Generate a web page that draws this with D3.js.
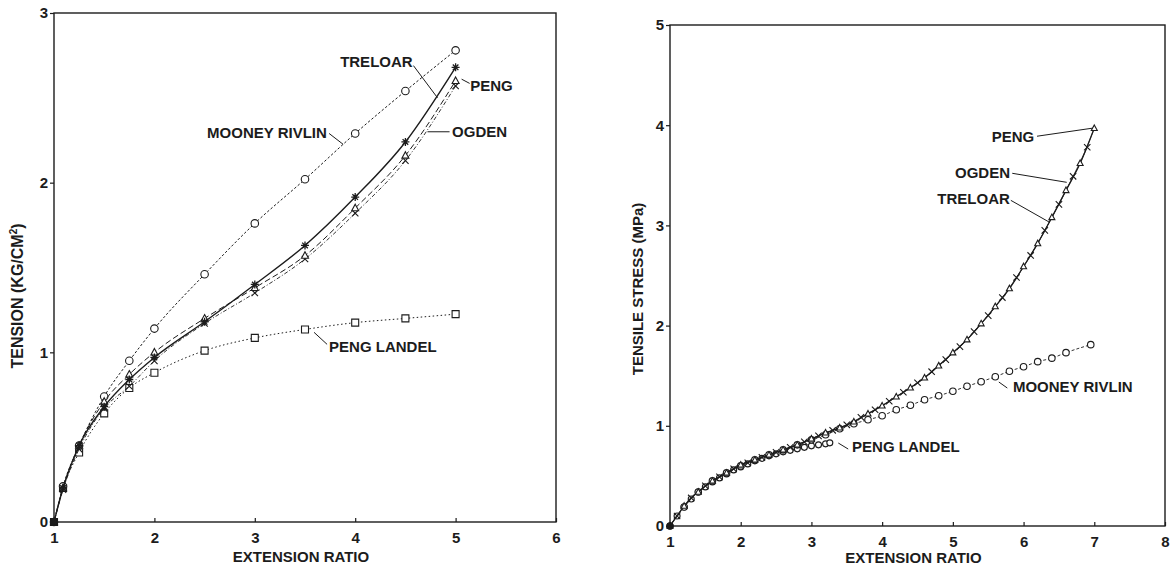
<!DOCTYPE html>
<html><head><meta charset="utf-8">
<script src="https://cdn.jsdelivr.net/npm/d3@7"></script>
<style>
html,body{margin:0;padding:0;background:#fff;}
svg{display:block;}
text{font-family:"Liberation Sans",Arial,Helvetica,sans-serif;font-weight:bold;fill:#1c1c1c;}
</style></head><body>
<svg id="chart" width="1171" height="568"></svg>
<script>
// ---- Panel A: tension (kg/cm²) against extension ratio ----
const ratioA = [1, 1.09, 1.25, 1.5, 1.75, 2, 2.5, 3, 3.5, 4, 4.5, 5];
const mooneyA = [0, 0.21, 0.45, 0.74, 0.95, 1.14, 1.46, 1.76, 2.02, 2.29, 2.54, 2.78];
const treloarA = [0, 0.20, 0.45, 0.68, 0.84, 0.97, 1.18, 1.40, 1.63, 1.915, 2.24, 2.68];
const pengA = [0, 0.20, 0.45, 0.71, 0.87, 1.00, 1.20, 1.38, 1.57, 1.85, 2.16, 2.60];
const ogdenA = [0, 0.19, 0.43, 0.67, 0.80, 0.95, 1.17, 1.35, 1.55, 1.82, 2.13, 2.57];
const pengLandelA = [0, 0.20, 0.41, 0.64, 0.79, 0.88, 1.01, 1.085, 1.135, 1.175, 1.20, 1.225];
const xTicksA = [1, 2, 3, 4, 5, 6];
const yTicksA = [0, 1, 2, 3];

// ---- Panel B: tensile stress (MPa) against extension ratio ----
const ratioTreloarB = [1, 1.1, 1.2, 1.3, 1.4, 1.5, 1.6, 1.7, 1.8, 1.9, 2.0, 2.2, 2.4, 2.6, 2.8, 3.0, 3.2, 3.4, 3.6, 3.8, 4.0, 4.2, 4.4, 4.6, 4.8, 5.0, 5.2, 5.4, 5.6, 5.8, 6.0, 6.2, 6.4, 6.6, 6.8, 7.0];
const treloarB = [0, 0.10, 0.20, 0.28, 0.34, 0.40, 0.45, 0.49, 0.53, 0.57, 0.61, 0.66, 0.71, 0.76, 0.81, 0.87, 0.93, 0.98, 1.04, 1.12, 1.20, 1.29, 1.38, 1.48, 1.60, 1.73, 1.86, 2.02, 2.19, 2.37, 2.59, 2.82, 3.08, 3.35, 3.62, 3.97];
const ratioOgdenB = [1.1, 1.3, 1.5, 1.7, 1.9, 2.1, 2.3, 2.5, 2.7, 2.9, 3.1, 3.3, 3.5, 3.7, 3.9, 4.1, 4.3, 4.5, 4.7, 4.9, 5.1, 5.3, 5.5, 5.7, 5.9, 6.1, 6.3, 6.5, 6.7, 6.9];
const ogdenB = [0.10, 0.28, 0.40, 0.49, 0.57, 0.63, 0.685, 0.735, 0.785, 0.84, 0.90, 0.955, 1.01, 1.085, 1.16, 1.245, 1.335, 1.43, 1.54, 1.66, 1.79, 1.94, 2.10, 2.28, 2.48, 2.70, 2.95, 3.21, 3.49, 3.78];
const ratioPengB = [1.0, 1.2, 1.4, 1.6, 1.8, 2.0, 2.2, 2.4, 2.6, 2.8, 3.0, 3.2, 3.4, 3.6, 3.8, 4.0, 4.2, 4.4, 4.6, 4.8, 5.0, 5.2, 5.4, 5.6, 5.8, 6.0, 6.2, 6.4, 6.6, 6.8, 7.0];
const pengB = [0, 0.20, 0.34, 0.45, 0.53, 0.61, 0.66, 0.71, 0.76, 0.81, 0.87, 0.93, 0.98, 1.04, 1.12, 1.20, 1.29, 1.38, 1.48, 1.60, 1.73, 1.86, 2.02, 2.19, 2.37, 2.59, 2.82, 3.08, 3.35, 3.62, 3.97];
const ratioMooneyB = [1.0, 1.2, 1.4, 1.6, 1.8, 2.0, 2.2, 2.4, 2.6, 2.8, 3.0, 3.2, 3.4, 3.6, 3.8, 4.0, 4.2, 4.4, 4.6, 4.8, 5.0, 5.2, 5.4, 5.6, 5.8, 6.0, 6.2, 6.4, 6.6, 6.95];
const mooneyB = [0, 0.19, 0.34, 0.45, 0.53, 0.60, 0.66, 0.71, 0.76, 0.81, 0.86, 0.91, 0.97, 1.02, 1.06, 1.10, 1.16, 1.205, 1.26, 1.30, 1.345, 1.395, 1.44, 1.49, 1.545, 1.59, 1.64, 1.675, 1.73, 1.81];
const ratioPengLandelB = [1.0, 1.1, 1.2, 1.3, 1.4, 1.5, 1.6, 1.7, 1.8, 1.9, 2.0, 2.1, 2.2, 2.3, 2.4, 2.5, 2.6, 2.7, 2.8, 2.9, 3.0, 3.1, 3.2, 3.26];
const pengLandelB = [0, 0.10, 0.19, 0.27, 0.34, 0.39, 0.44, 0.48, 0.52, 0.56, 0.59, 0.62, 0.65, 0.675, 0.70, 0.72, 0.74, 0.755, 0.77, 0.785, 0.80, 0.81, 0.82, 0.83];
const xTicksB = [1, 2, 3, 4, 5, 6, 7, 8];
const yTicksB = [0, 1, 2, 3, 4, 5];

const INK = "#1c1c1c";
const svg = d3.select("#chart");

// Marker shapes as d3.symbol types
const sym = {
  circle: { draw(c, s) { const r = Math.sqrt(s) / 2; c.moveTo(r, 0); c.arc(0, 0, r, 0, 2 * Math.PI); } },
  square: { draw(c, s) { const r = Math.sqrt(s) / 2; c.rect(-r, -r, 2 * r, 2 * r); } },
  triangle: { draw(c, s) { const r = Math.sqrt(s) / 2; c.moveTo(0, -r * 1.1); c.lineTo(r, r * 0.75); c.lineTo(-r, r * 0.75); c.closePath(); } },
  plus: { draw(c, s) { const r = Math.sqrt(s) / 2; c.moveTo(-r, 0); c.lineTo(r, 0); c.moveTo(0, -r); c.lineTo(0, r); } },
  times: { draw(c, s) { const r = Math.sqrt(s) / 2 * 0.8; c.moveTo(-r, -r); c.lineTo(r, r); c.moveTo(r, -r); c.lineTo(-r, r); } },
  star: { draw(c, s) { const r = Math.sqrt(s) / 2; const q = r * 0.7;
    c.moveTo(-r, 0); c.lineTo(r, 0); c.moveTo(0, -r); c.lineTo(0, r);
    c.moveTo(-q, -q); c.lineTo(q, q); c.moveTo(q, -q); c.lineTo(-q, q); } }
};

function panel(cfg) {
  const x = d3.scaleLinear().domain(cfg.xDomain).range([cfg.left, cfg.right]);
  const y = d3.scaleLinear().domain(cfg.yDomain).range([cfg.bottom, cfg.top]);
  const g = svg.append("g");

  // frame
  g.append("rect")
    .attr("x", cfg.left).attr("y", cfg.top)
    .attr("width", cfg.right - cfg.left).attr("height", cfg.bottom - cfg.top)
    .attr("fill", "none").attr("stroke", INK).attr("stroke-width", 1.4);

  // axes
  const xAxis = d3.axisBottom(x).tickValues(cfg.xTicks).tickSize(-4).tickPadding(10).tickFormat(d3.format("d"));
  const yAxis = d3.axisLeft(y).tickValues(cfg.yTicks).tickSize(4).tickPadding(2).tickFormat(d3.format("d"));
  const ax = g.append("g").attr("transform", `translate(0,${cfg.bottom})`).call(xAxis);
  const ay = g.append("g").attr("transform", `translate(${cfg.left},0)`).call(yAxis);
  [ax, ay].forEach(a => {
    a.select(".domain").remove();
    a.selectAll(".tick line").attr("stroke", INK).attr("stroke-width", 1.2);
    a.selectAll(".tick text").attr("fill", INK).style("font-size", "15px")
      .style("font-family", "'Liberation Sans',Arial,sans-serif").style("font-weight", "bold");
  });

  // axis titles
  g.append("text").attr("x", (cfg.left + cfg.right) / 2 + cfg.xTitleDx).attr("y", cfg.xTitleY)
    .attr("text-anchor", "middle").style("font-size", "15px").text(cfg.xTitle);
  const yt = g.append("text")
    .attr("transform", `translate(${cfg.yTitleX},${cfg.yTitleY}) rotate(-90)`)
    .attr("text-anchor", "middle").style("font-size", cfg.yTitleSize);
  cfg.yTitle(yt);

  // series
  cfg.series.forEach(s => {
    const pts = s.xs.map((v, i) => [v, s.ys[i]]);
    if (s.line !== false) {
      g.append("path").datum(pts)
        .attr("fill", "none").attr("stroke", INK)
        .attr("stroke-width", s.width || 1)
        .attr("stroke-dasharray", s.dash || null)
        .attr("d", d3.line().x(d => x(d[0])).y(d => y(d[1])).curve(d3.curveMonotoneX));
    }
    if (s.marker) {
      const gen = d3.symbol().type(sym[s.marker]).size(s.size * s.size);
      g.append("g").selectAll("path").data(pts).join("path")
        .attr("transform", d => `translate(${x(d[0])},${y(d[1])})`)
        .attr("d", gen)
        .attr("fill", d => d[1] === 0 ? INK : (s.marker === "plus" || s.marker === "times" || s.marker === "star" ? "none" : "#fff"))
        .attr("stroke", INK).attr("stroke-width", s.markerWidth || 1.1);
    }
  });

  // labels with leader lines (positions in data units)
  cfg.labels.forEach(l => {
    g.append("line")
      .attr("x1", x(l.from[0])).attr("y1", y(l.from[1]))
      .attr("x2", x(l.to[0])).attr("y2", y(l.to[1]))
      .attr("stroke", INK).attr("stroke-width", 1);
    g.append("text").attr("x", x(l.at[0])).attr("y", y(l.at[1]))
      .style("font-size", "15px").text(l.text);
  });
}

panel({
  left: 54, right: 556, top: 13, bottom: 522,
  xDomain: [1, 6], yDomain: [0, 3],
  xTicks: xTicksA, yTicks: yTicksA,
  xTitle: "EXTENSION RATIO", xTitleY: 562, xTitleDx: -4,
  yTitleX: 23, yTitleY: 296, yTitleSize: "16px",
  yTitle: t => { t.append("tspan").text("TENSION (KG/CM");
                 t.append("tspan").attr("dy", -6).style("font-size", "10px").text("2");
                 t.append("tspan").attr("dy", 6).text(")"); },
  series: [
    { xs: ratioA, ys: pengLandelA, dash: "1.5,2.5", marker: "square", size: 7 },
    { xs: ratioA, ys: mooneyA, dash: "2.5,2", marker: "circle", size: 7.5 },
    { xs: ratioA, ys: ogdenA, dash: "4,2,1,2", width: 0.9, marker: "times", size: 8 },
    { xs: ratioA, ys: pengA, dash: "6,3", width: 1, marker: "triangle", size: 7 },
    { xs: ratioA, ys: treloarA, width: 1.4, marker: "star", size: 8, markerWidth: 1.3 }
  ],
  labels: [
    { text: "TRELOAR", at: [3.85, 2.68], from: [4.58, 2.69], to: [4.82, 2.50] },
    { text: "PENG", at: [5.145, 2.54], from: [5.06, 2.61], to: [5.14, 2.585] },
    { text: "OGDEN", at: [4.965, 2.27], from: [4.72, 2.30], to: [4.94, 2.30] },
    { text: "MOONEY RIVLIN", at: [2.525, 2.262], from: [3.74, 2.29], to: [3.88, 2.226] },
    { text: "PENG LANDEL", at: [3.74, 1.0], from: [3.59, 1.118], to: [3.72, 1.047] }
  ]
});

panel({
  left: 670, right: 1165, top: 25, bottom: 526,
  xDomain: [1, 8], yDomain: [0, 5],
  xTicks: xTicksB, yTicks: yTicksB,
  xTitle: "EXTENSION RATIO", xTitleY: 563, xTitleDx: -4,
  yTitleX: 643, yTitleY: 289, yTitleSize: "15px",
  yTitle: t => t.text("TENSILE STRESS (MPa)"),
  series: [
    { xs: ratioPengLandelB, ys: pengLandelB, dash: "2,2", marker: "circle", size: 6 },
    { xs: ratioMooneyB, ys: mooneyB, dash: "3,2", width: 0.9, marker: "circle", size: 6.5 },
    { xs: ratioTreloarB, ys: treloarB, width: 1.3 },
    { xs: ratioOgdenB, ys: ogdenB, width: 0.6, marker: "times", size: 8 },
    { xs: ratioPengB, ys: pengB, width: 0.6, marker: "triangle", size: 6 }
  ],
  labels: [
    { text: "PENG", at: [5.55, 3.83], from: [6.19, 3.89], to: [6.97, 3.97] },
    { text: "OGDEN", at: [5.03, 3.47], from: [5.84, 3.52], to: [6.61, 3.43] },
    { text: "TRELOAR", at: [4.78, 3.21], from: [5.82, 3.25], to: [6.37, 3.03] },
    { text: "MOONEY RIVLIN", at: [5.85, 1.337], from: [5.65, 1.437], to: [5.77, 1.377] },
    { text: "PENG LANDEL", at: [3.575, 0.739], from: [3.38, 0.828], to: [3.52, 0.768] }
  ]
});
</script>
</body></html>
